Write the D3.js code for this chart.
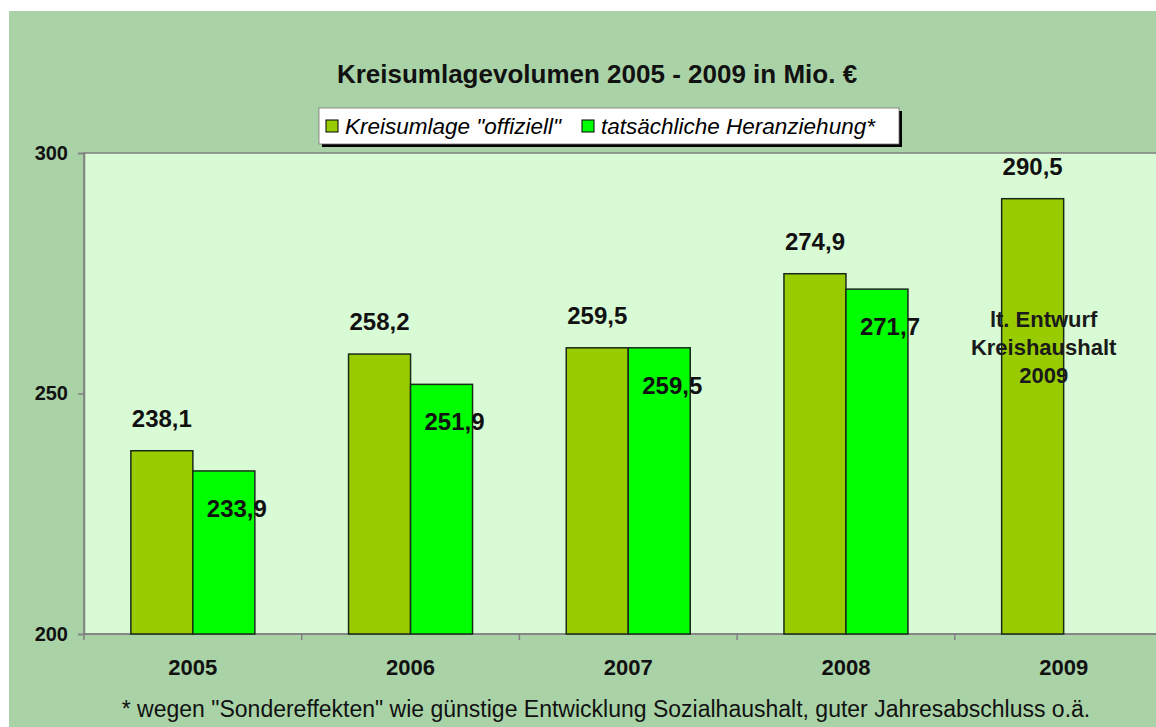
<!DOCTYPE html>
<html>
<head>
<meta charset="utf-8">
<script src="https://cdn.jsdelivr.net/npm/d3@7"></script>
<style>
  body { margin: 0; background: #fff; }
  text { font-family: Arial, "Liberation Sans", sans-serif; }
</style>
</head>
<body>
<div id="chart"></div>
<script>
var years = ["2005", "2006", "2007", "2008", "2009"];
var seriesNames = ["Kreisumlage \"offiziell\"", "tatsächliche Heranziehung*"];
var offiziell = [238.1, 258.2, 259.5, 274.9, 290.5];
var tatsaechlich = [233.9, 251.9, 259.5, 271.7, null];
var yTicks = [200, 250, 300];
var colors = ["#99cc00", "#00ff00"];
var note2009 = ["lt. Entwurf", "Kreishaushalt", "2009"];
var footnote = "* wegen \"Sondereffekten\" wie günstige Entwicklung Sozialhaushalt, guter Jahresabschluss o.ä.";

var width = 1156, height = 727;
var plotLeft = 84, plotTop = 153, plotBottom = 634, catW = 217.7;

var de = d3.formatLocale({decimal: ",", thousands: ".", grouping: [3], currency: ["", " €"]});
var fmt = de.format(".1f");

var svg = d3.select("#chart").append("svg").attr("width", width).attr("height", height);

// panel background
svg.append("rect").attr("x", 9).attr("y", 11).attr("width", width - 9).attr("height", height - 11)
	.style("fill", "#a9d3a7");

var x0 = d3.scaleBand().domain(years).range([plotLeft, plotLeft + catW * years.length]).padding(0);
var x1 = d3.scaleBand().domain([0, 1]).range([0, 124]);
var groupOff = (x0.bandwidth() - 124) / 2;
var y = d3.scaleLinear().domain([200, 300]).range([plotBottom, plotTop]);

// plot area
svg.append("rect").attr("x", plotLeft).attr("y", plotTop)
	.attr("width", x0.range()[1] - plotLeft).attr("height", plotBottom - plotTop)
	.style("fill", "#d8fbd5").style("stroke", "#808080").style("stroke-width", 1.5);

// title
svg.append("text").attr("x", 597).attr("y", 83).attr("text-anchor", "middle")
	.style("font-size", "26px").style("font-weight", "bold").style("fill", "#111")
	.text("Kreisumlagevolumen 2005 - 2009 in Mio. €");

// legend
var lg = svg.append("g");
lg.append("rect").attr("x", 322).attr("y", 111).attr("width", 580).attr("height", 36).style("fill", "#000");
lg.append("rect").attr("x", 319).attr("y", 108).attr("width", 580).attr("height", 36)
	.style("fill", "#fff").style("stroke", "#777").style("stroke-width", 0.8);
var legX = [326, 582];
seriesNames.forEach(function(s, i) {
	lg.append("rect").attr("x", legX[i]).attr("y", 120).attr("width", 12).attr("height", 12)
		.style("fill", colors[i]).style("stroke", "#000").style("stroke-width", 1);
	lg.append("text").attr("x", legX[i] + 19).attr("y", 134)
		.style("font-size", "22.5px").style("font-style", "italic").style("fill", "#000")
		.text(s);
});

// y axis
var yAxis = d3.axisLeft(y).tickValues(yTicks).tickSize(6).tickPadding(10);
var gy = svg.append("g").attr("transform", "translate(" + plotLeft + ",0)").call(yAxis);
gy.select(".domain").style("stroke", "#808080").style("stroke-width", 1.5);
gy.selectAll(".tick line").style("stroke", "#808080").style("stroke-width", 1.5);
gy.selectAll(".tick text").style("font-size", "20px").style("font-weight", "bold")
	.style("fill", "#111").style("font-family", "Arial, 'Liberation Sans', sans-serif");

// x axis
var gx = svg.append("g").attr("transform", "translate(0," + plotBottom + ")");
gx.append("line").attr("x1", plotLeft).attr("x2", x0.range()[1]).style("stroke", "#808080").style("stroke-width", 1.5);
gx.selectAll(".xt").data(d3.range(years.length + 1)).enter().append("line")
	.attr("x1", function(d) { return plotLeft + d * x0.step(); })
	.attr("x2", function(d) { return plotLeft + d * x0.step(); })
	.attr("y1", 0).attr("y2", 6).style("stroke", "#808080").style("stroke-width", 1.5);
gx.selectAll(".xl").data(years).enter().append("text")
	.attr("x", function(d) { return x0(d) + x0.bandwidth() / 2; })
	.attr("y", 41).attr("text-anchor", "middle")
	.style("font-size", "22px").style("font-weight", "bold").style("fill", "#111")
	.text(function(d) { return d; });

// bars
var rows = years.map(function(yr, i) { return {year: yr, vals: [offiziell[i], tatsaechlich[i]]}; });
var grp = svg.selectAll(".grp").data(rows).enter().append("g")
	.attr("transform", function(d) { return "translate(" + (x0(d.year) + groupOff) + ",0)"; });

function cells(d) {
	return d.vals.map(function(v, k) { return {k: k, v: v}; }).filter(function(e) { return e.v != null; });
}

grp.selectAll("rect").data(cells)
	.enter().append("rect")
		.attr("x", function(d) { return x1(d.k); })
		.attr("y", function(d) { return y(d.v); })
		.attr("width", x1.bandwidth())
		.attr("height", function(d) { return plotBottom - y(d.v); })
		.style("fill", function(d) { return colors[d.k]; })
		.style("stroke", "#1a2a1a").style("stroke-width", 1.5);

// value labels
grp.selectAll("text").data(cells)
	.enter().append("text")
		.attr("x", function(d) { return x1(d.k) + x1.bandwidth() / 2 + (d.k == 1 ? 13 : 0); })
		.attr("y", function(d) { return d.k == 0 ? y(d.v) - 24 : y(d.v) + 46; })
		.attr("text-anchor", "middle")
		.style("font-size", "24px").style("font-weight", "bold").style("fill", "#111")
		.text(function(d) { return fmt(d.v); });

// 2009 note
svg.selectAll(".note").data(note2009).enter().append("text")
	.attr("x", x0("2009") + groupOff + x1.bandwidth() / 2 + 11)
	.attr("y", function(d, i) { return 327 + i * 28; })
	.attr("text-anchor", "middle")
	.style("font-size", "22px").style("font-weight", "bold").style("fill", "#1a1a1a")
	.text(function(d) { return d; });

// footnote
svg.append("text").attr("x", 606).attr("y", 717).attr("text-anchor", "middle")
	.style("font-size", "23px").style("fill", "#111")
	.text(footnote);
</script>
</body>
</html>
